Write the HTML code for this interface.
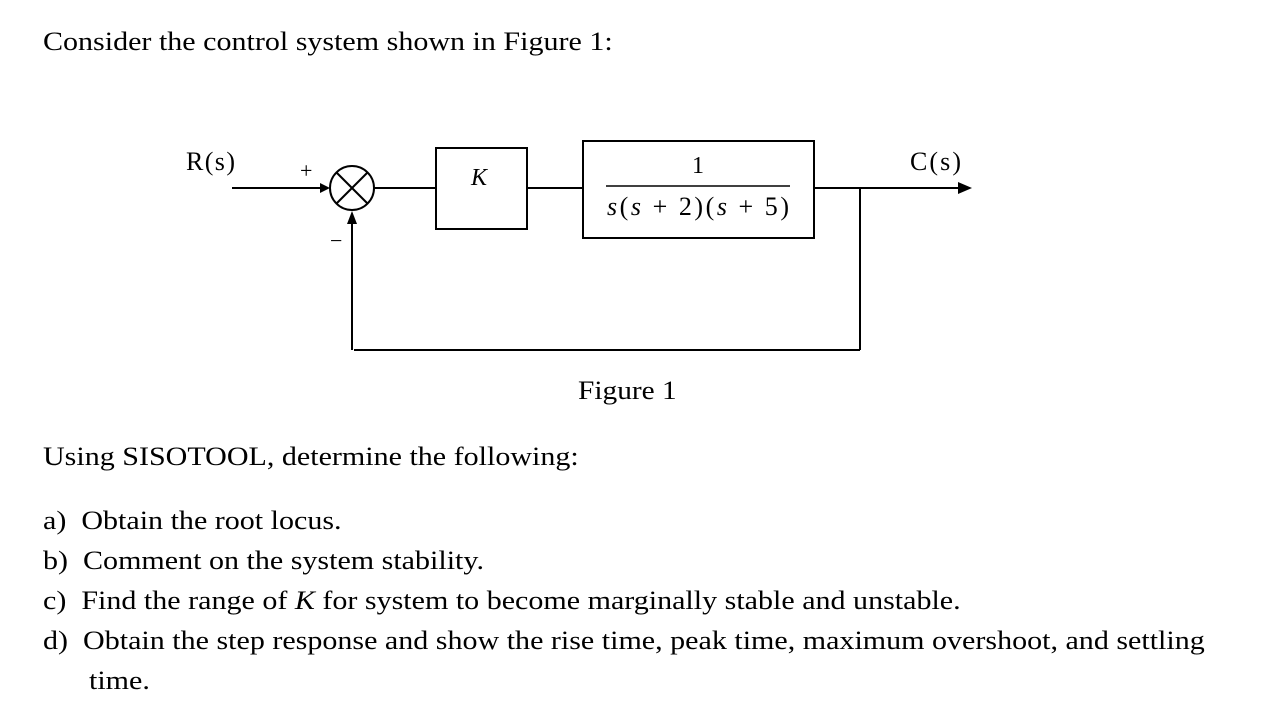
<!DOCTYPE html>
<html><head><meta charset="utf-8"><style>
body{margin:0;background:#fff;width:1267px;height:717px;overflow:hidden;position:relative;font-family:"Liberation Serif",serif;color:#000}
.t{position:absolute;font-size:26px;white-space:nowrap;line-height:1;transform:scaleX(1.155);transform-origin:0 0}
</style></head><body>
<div class="t" style="left:43px;top:29px">Consider the control system shown in Figure 1:</div>
<svg width="1267" height="717" style="position:absolute;left:0;top:0">
<g stroke="#000" stroke-width="2" fill="none">
<line x1="232" y1="188" x2="320" y2="188"/>
<circle cx="352" cy="188" r="22"/>
<line x1="336.5" y1="172.5" x2="367.5" y2="203.5"/>
<line x1="367.5" y1="172.5" x2="336.5" y2="203.5"/>
<line x1="374" y1="188" x2="436" y2="188"/>
<rect x="436" y="148" width="91" height="81"/>
<line x1="527" y1="188" x2="583" y2="188"/>
<rect x="583" y="141" width="231" height="97"/>
<line x1="814" y1="188" x2="960" y2="188"/>
<line x1="860" y1="188" x2="860" y2="350"/>
<line x1="354" y1="350" x2="860" y2="350"/>
<line x1="352" y1="350" x2="352" y2="222"/>
<line x1="606" y1="186" x2="790" y2="186" stroke-width="1.5"/>
</g>
<g fill="#000">
<polygon points="330,188 320,183 320,193"/>
<polygon points="972,188 958,182 958,194"/>
<polygon points="352,211 347,224 357,224"/>
</g>
<text x="186" y="170" font-size="26" font-family="Liberation Serif" textLength="49">R(s)</text>
<text x="300" y="178" font-size="22" font-family="Liberation Serif">+</text>
<text x="330" y="248" font-size="22" font-family="Liberation Serif">−</text>
<text x="471" y="185" font-size="24" font-style="italic" font-family="Liberation Serif">K</text>
<text x="698" y="173" font-size="24" text-anchor="middle" font-family="Liberation Serif">1</text>
<text x="607" y="215" font-size="26" font-family="Liberation Serif" textLength="182" lengthAdjust="spacing"><tspan font-style="italic">s</tspan>(<tspan font-style="italic">s</tspan> + 2)(<tspan font-style="italic">s</tspan> + 5)</text>
<text x="910" y="170" font-size="26" font-family="Liberation Serif" textLength="51">C(s)</text>
</svg>
<div class="t" style="left:578px;top:378px;transform:scaleX(1.13)">Figure 1</div>
<div class="t" style="left:43px;top:444px">Using SISOTOOL, determine the following:</div>
<div class="t" style="left:43px;top:508px">a)&nbsp; Obtain the root locus.</div>
<div class="t" style="left:43px;top:548px">b)&nbsp; Comment on the system stability.</div>
<div class="t" style="left:43px;top:588px">c)&nbsp; Find the range of <i>K</i> for system to become marginally stable and unstable.</div>
<div class="t" style="left:43px;top:628px">d)&nbsp; Obtain the step response and show the rise time, peak time, maximum overshoot, and settling</div>
<div class="t" style="left:89px;top:668px">time.</div>
</body></html>
